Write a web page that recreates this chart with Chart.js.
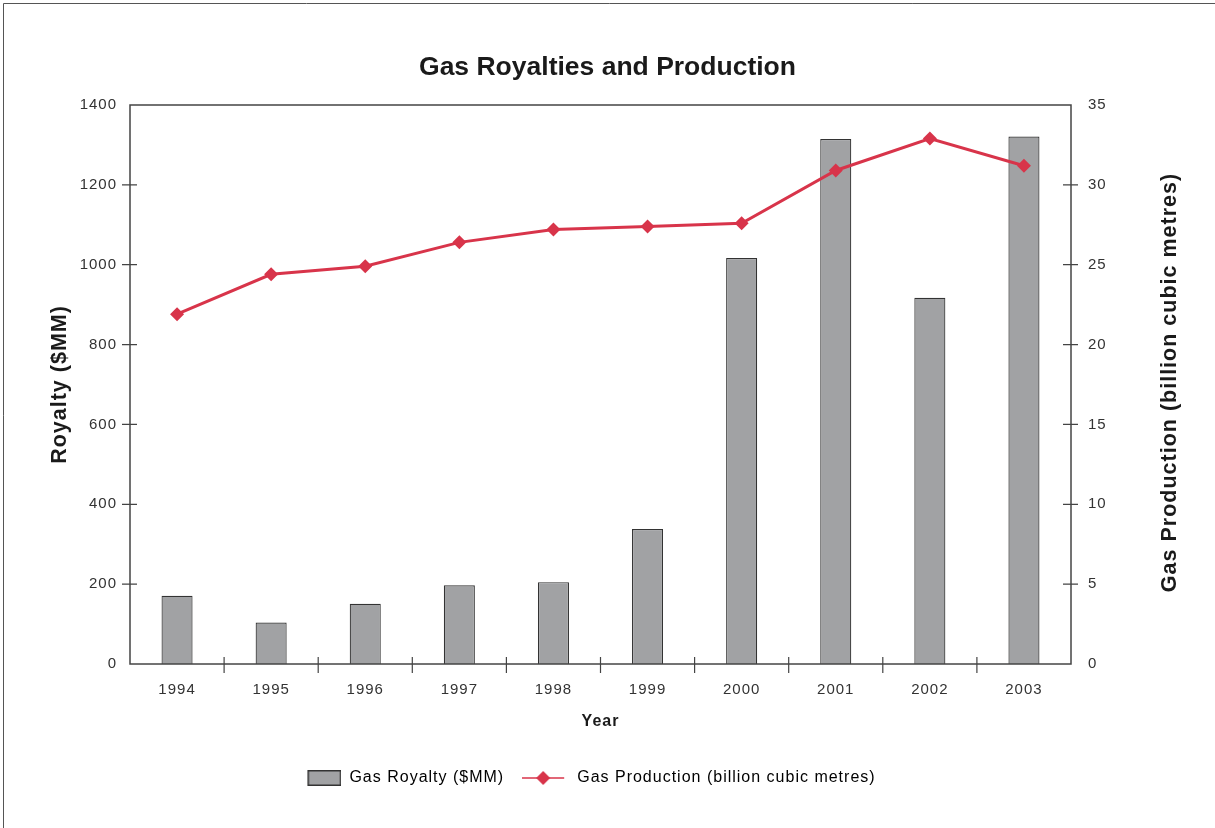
<!DOCTYPE html>
<html>
<head>
<meta charset="utf-8">
<script src="https://cdn.jsdelivr.net/npm/chart.js@4.4.1/dist/chart.umd.min.js"></script>
<style>
  html, body { margin: 0; padding: 0; background: #fff; }
  #wrap { position: relative; width: 1215px; height: 828px; }
</style>
</head>
<body>
<div id="wrap"><canvas id="chart" width="1215" height="828"></canvas></div>
<script>
var years = ['1994', '1995', '1996', '1997', '1998', '1999', '2000', '2001', '2002', '2003'];
var royalty = [171, 104, 151, 197, 205, 338, 1017, 1315, 917, 1321];
var production = [21.9, 24.4, 24.9, 26.4, 27.2, 27.4, 27.6, 30.9, 32.9, 31.2];
var rightTitle = 'Gas Production (billion cubic metres)';

var FONT = '"Liberation Sans", Arial, sans-serif';
var RED = '#d8344a';
var GREY = '#a1a2a4';

// legend swatches (images are centred on the legend box, so pad them)
function barSwatch(){
    var c = document.createElement('canvas');
    c.width = 40; c.height = 18;
    var g = c.getContext('2d');
    g.fillStyle = GREY;
    g.fillRect(6, 1, 34, 16);
    g.strokeStyle = '#333';
    g.lineWidth = 1.5;
    g.strokeRect(6.75, 1.75, 32.5, 14.5);
    return c;
}
function lineSwatch(){
    var c = document.createElement('canvas');
    c.width = 54; c.height = 18;
    var g = c.getContext('2d');
    g.strokeStyle = RED;
    g.lineWidth = 1.5;
    g.beginPath(); g.moveTo(0, 9); g.lineTo(42, 9); g.stroke();
    g.fillStyle = RED;
    g.beginPath();
    g.moveTo(21, 2); g.lineTo(28, 9); g.lineTo(21, 16); g.lineTo(14, 9);
    g.closePath(); g.fill();
    return c;
}
var swatches = [barSwatch(), lineSwatch()];

var frame = {
    id: 'frame',
    beforeLayout: function(chart){ chart.ctx.letterSpacing = '1px'; },
    afterLayout: function(chart){
        chart.legend.left -= 19;
        chart.legend.right -= 19;
    },
    beforeDraw: function(chart){
        var ctx = chart.ctx;
        ctx.letterSpacing = '1px';
        var tb = chart.titleBlock;
        if (tb && !tb._wrapped){
            var orig = tb.draw;
            tb.draw = function(){
                ctx.letterSpacing = '0px';
                orig.apply(this, arguments);
                ctx.letterSpacing = '1px';
            };
            tb._wrapped = true;
        }
        ctx.save();
        ctx.strokeStyle = '#555';
        ctx.lineWidth = 1;
        ctx.beginPath();
        ctx.moveTo(3.5, 828); ctx.lineTo(3.5, 3.5); ctx.lineTo(1215, 3.5);
        ctx.stroke();
        ctx.restore();
    },
    afterDraw: function(chart){
        var ctx = chart.ctx, a = chart.chartArea;
        var x = chart.scales.x, y = chart.scales.y, y1 = chart.scales.y1;
        ctx.save();
        ctx.strokeStyle = '#444';
        ctx.lineWidth = 1.5;
        ctx.strokeRect(a.left, a.top, a.right - a.left, a.bottom - a.top);
        ctx.lineWidth = 1.2;
        ctx.beginPath();
        for (var i = 0; i < years.length - 1; i++){
            var px = (x.getPixelForValue(i) + x.getPixelForValue(i + 1)) / 2;
            ctx.moveTo(px, a.bottom - 7); ctx.lineTo(px, a.bottom + 9);
        }
        y.ticks.forEach(function(t){
            if (t.value <= y.min || t.value >= y.max) return;
            var py = y.getPixelForValue(t.value);
            ctx.moveTo(a.left - 8, py); ctx.lineTo(a.left + 7, py);
        });
        y1.ticks.forEach(function(t){
            if (t.value <= y1.min || t.value >= y1.max) return;
            var py = y1.getPixelForValue(t.value);
            ctx.moveTo(a.right - 8, py); ctx.lineTo(a.right + 7, py);
        });
        ctx.stroke();

        // right axis title reads bottom to top
        ctx.translate(1170, (a.top + a.bottom) / 2 - 2);
        ctx.rotate(-Math.PI / 2);
        ctx.fillStyle = '#1a1a1a';
        ctx.font = 'bold 21.5px ' + FONT;
        ctx.textAlign = 'center';
        ctx.textBaseline = 'middle';
        ctx.fillText(rightTitle, 0, 0);
        ctx.restore();
    }
};

var plain = function(v){ return String(v); };

var ctx = document.getElementById('chart');
var myChart = new Chart(ctx, {
    data: {
        labels: years,
        datasets: [{
            type: 'bar',
            label: 'Gas Royalty ($MM)',
            data: royalty,
            yAxisID: 'y',
            backgroundColor: GREY,
            borderColor: '#333',
            borderWidth: 1.2,
            categoryPercentage: 1,
            barPercentage: 0.33,
            order: 2
        }, {
            type: 'line',
            label: rightTitle,
            data: production,
            yAxisID: 'y1',
            borderColor: RED,
            backgroundColor: RED,
            borderWidth: 3,
            tension: 0,
            pointStyle: 'rectRot',
            pointRadius: 7,
            pointBackgroundColor: RED,
            pointBorderColor: RED,
            pointBorderWidth: 0,
            order: 1
        }]
    },
    options: {
        responsive: false,
        animation: false,
        layout: { padding: { left: 0, right: 0, top: 0, bottom: 32 } },
        plugins: {
            title: {
                display: true,
                text: 'Gas Royalties and Production',
                color: '#1a1a1a',
                font: { family: FONT, size: 26.5, weight: 'bold' },
                padding: { top: 52, bottom: 21.2 }
            },
            legend: {
                position: 'bottom',
                labels: {
                    usePointStyle: true,
                    pointStyleWidth: 40,
                    padding: 25,
                    color: '#222',
                    font: { family: FONT, size: 16 },
                    generateLabels: function(chart){
                        return chart.data.datasets.map(function(ds, i){
                            return { text: ds.label, pointStyle: swatches[i], datasetIndex: i, hidden: false, lineWidth: 0 };
                        });
                    }
                }
            },
            tooltip: { enabled: false }
        },
        scales: {
            x: {
                grid: { display: false, drawTicks: false },
                border: { display: false },
                ticks: { color: '#333', font: { family: FONT, size: 15 }, padding: 17, maxRotation: 0 },
                title: {
                    display: true, text: 'Year', color: '#1a1a1a',
                    font: { family: FONT, size: 16, weight: 'bold' },
                    padding: { top: 0, bottom: 13.4 }
                },
                afterFit: function(s){ s.height = 81; }
            },
            y: {
                position: 'left',
                min: 0, max: 1400,
                grid: { display: false, drawTicks: false },
                border: { display: false },
                ticks: { stepSize: 200, color: '#333', font: { family: FONT, size: 15 }, padding: 13, callback: plain },
                title: {
                    display: true, text: 'Royalty ($MM)', color: '#1a1a1a',
                    font: { family: FONT, size: 21.5, weight: 'bold' },
                    padding: { top: 47, bottom: 0 }
                },
                afterFit: function(s){ s.width = 130; }
            },
            y1: {
                position: 'right',
                min: 0, max: 35,
                grid: { display: false, drawTicks: false },
                border: { display: false },
                ticks: { stepSize: 5, color: '#333', font: { family: FONT, size: 15 }, padding: 17, callback: plain },
                afterFit: function(s){ s.width = 144; }
            }
        }
    },
    plugins: [frame]
});
</script>
</body>
</html>
